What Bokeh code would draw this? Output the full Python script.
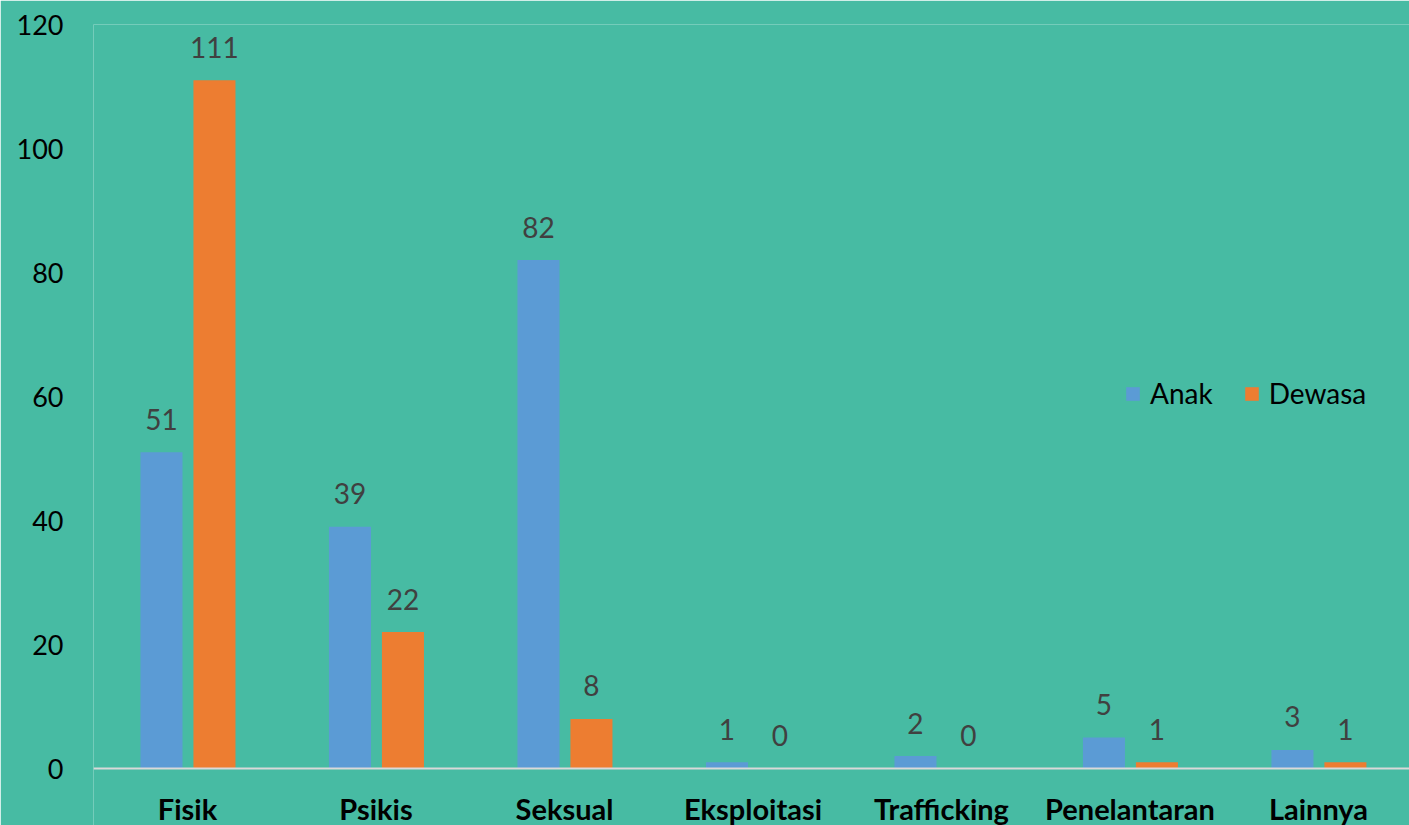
from bokeh.plotting import figure
from bokeh.models import ColumnDataSource, Legend, LegendItem, Span, Range1d
from bokeh.transform import dodge
from bokeh.core.properties import value
from bokeh.embed import file_html
from bokeh.resources import INLINE

categories = ["Fisik", "Psikis", "Seksual", "Eksploitasi", "Trafficking", "Penelantaran", "Lainnya"]
anak = [51, 39, 82, 1, 2, 5, 3]
dewasa = [111, 22, 8, 0, 0, 1, 1]
y_ticks = [0, 20, 40, 60, 80, 100, 120]

BG = "#47BBA3"
BLUE = "#5B9BD5"
ORANGE = "#ED7D31"
FONT = "Lato"

pos = list(range(len(categories)))
src = ColumnDataSource(dict(pos=pos, cat=categories, anak=anak, dewasa=dewasa,
                            zero=[0] * len(categories),
                            anak_t=[str(v) for v in anak],
                            dewasa_t=[str(v) for v in dewasa]))

p = figure(x_range=Range1d(-0.4987, 6.483), y_range=Range1d(-9.19, 120),
           width=1409, height=825, output_backend="svg", toolbar_location=None,
           min_border_left=93, min_border_right=0, min_border_top=24, min_border_bottom=0)
p.background_fill_color = BG
p.border_fill_color = BG
p.outline_line_color = None
p.grid.visible = False
p.xaxis.visible = False

p.add_layout(Span(location=0, dimension="width", line_color="#D9D9D9", line_width=2))

r1 = p.vbar(x=dodge("pos", -0.138), top="anak", width=0.223,
            source=src, color=BLUE, line_color=None)
r2 = p.vbar(x=dodge("pos", 0.143), top="dewasa", width=0.223,
            source=src, color=ORANGE, line_color=None)

p.text(x=dodge("pos", -0.138), y="anak", text="anak_t", source=src,
       text_align="center", text_baseline="alphabetic", y_offset=-33,
       text_font=value(FONT), text_font_size="28px", text_color="#404040")
p.text(x=dodge("pos", 0.143), y="dewasa", text="dewasa_t", source=src,
       text_align="center", text_baseline="alphabetic", y_offset=-33,
       text_font=value(FONT), text_font_size="28px", text_color="#404040")

# category labels under the baseline
p.text(x="pos", y="zero", text="cat", source=src,
       text_align="center", text_baseline="middle", y_offset=40,
       text_font=value(FONT), text_font_size="29px", text_font_style="bold",
       text_color="black")

p.yaxis.ticker = y_ticks
p.yaxis.axis_line_color = None
p.yaxis.major_tick_line_color = None
p.yaxis.minor_tick_line_color = None
p.yaxis.major_label_text_font = FONT
p.yaxis.major_label_text_font_size = "27px"
p.yaxis.major_label_text_color = "black"
p.yaxis.major_label_standoff = 24

legend = Legend(items=[LegendItem(label="Anak", renderers=[r1]),
                       LegendItem(label="Dewasa", renderers=[r2])],
                orientation="horizontal", location=(1031, 415),
                background_fill_alpha=0, border_line_color=None,
                padding=0, margin=0, spacing=30, label_standoff=9,
                glyph_width=17, glyph_height=17,
                label_text_font=FONT, label_text_font_size="28px",
                label_text_color="black")
p.add_layout(legend)

open("out.html", "w").write(file_html(p, INLINE))
